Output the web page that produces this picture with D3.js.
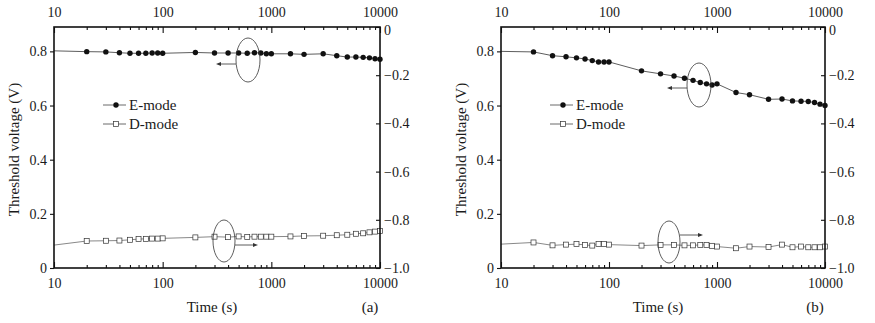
<!DOCTYPE html>
<html>
<head>
<meta charset="utf-8">
<script src="https://cdn.jsdelivr.net/npm/d3@7"></script>
<style>
  html, body { margin: 0; padding: 0; background: #fff; }
  svg { display: block; }
  text { font-family: "Liberation Serif", "DejaVu Serif", serif; fill: #1a1a1a; }
</style>
</head>
<body>
<svg id="chart" width="875" height="323"></svg>
<script>
// Measurement times (s), shared by both panels
const times = [10,20,30,40,50,60,70,80,90,100,200,300,400,500,600,700,800,900,1000,1500,2000,3000,4000,5000,6000,7000,8000,9000,10000];

// Panel (a): threshold voltage of E-mode (left axis) and D-mode (right axis)
const eModeA = [0.802,0.799,0.798,0.795,0.793,0.793,0.793,0.794,0.794,0.793,0.796,0.794,0.794,0.794,0.793,0.795,0.794,0.791,0.791,0.791,0.789,0.791,0.784,0.779,0.779,0.778,0.776,0.773,0.771];
const dModeA = [-0.905,-0.888,-0.887,-0.886,-0.883,-0.880,-0.879,-0.878,-0.878,-0.877,-0.873,-0.870,-0.872,-0.869,-0.871,-0.870,-0.870,-0.870,-0.870,-0.869,-0.867,-0.866,-0.864,-0.862,-0.858,-0.856,-0.852,-0.849,-0.846];

// Panel (b)
const eModeB = [0.800,0.798,0.784,0.780,0.776,0.772,0.766,0.761,0.761,0.761,0.728,0.717,0.709,0.701,0.693,0.685,0.680,0.676,0.680,0.648,0.640,0.623,0.624,0.617,0.616,0.615,0.611,0.605,0.600];
const dModeB = [-0.901,-0.894,-0.906,-0.903,-0.901,-0.904,-0.907,-0.901,-0.900,-0.903,-0.907,-0.904,-0.904,-0.906,-0.906,-0.904,-0.904,-0.908,-0.911,-0.918,-0.911,-0.913,-0.903,-0.914,-0.911,-0.914,-0.914,-0.914,-0.911];

// Axis ticks and labels
const xMajor = [10, 100, 1000, 10000];
const xMinor = [20,30,40,50,60,70,80,90,200,300,400,500,600,700,800,900,2000,3000,4000,5000,6000,7000,8000,9000];
const leftTicks = [0, 0.2, 0.4, 0.6, 0.8];
const rightTicks = [0, -0.2, -0.4, -0.6, -0.8, -1.0];
const seriesNames = ["E-mode", "D-mode"];
const xTitle = "Time (s)";
const yTitle = "Threshold voltage (V)";

const svg = d3.select("#chart");

function fmtLeft(v) { return v === 0 ? "0" : d3.format(".1f")(v); }
function fmtRight(v) { return v === 0 ? "0" : "\u2212" + d3.format(".1f")(-v); }

function drawPanel(cfg) {
  const { x0, x1, top, bottom, eVals, dVals, tag, legendX, eCircle, dCircle } = cfg;
  const g = svg.append("g");
  const x = d3.scaleLog().domain([10, 10000]).range([x0, x1]);
  const yL = d3.scaleLinear().domain([0, 0.89]).range([bottom, top]);
  const yR = d3.scaleLinear().domain([-1, 0]).range([bottom, top]);

  // Data lines
  const eLine = d3.line().x((d, i) => x(times[i])).y(d => yL(d));
  const dLine = d3.line().x((d, i) => x(times[i])).y(d => yR(d));
  g.append("path").attr("d", eLine(eVals)).attr("fill", "none")
    .attr("stroke", "#333").attr("stroke-width", 0.8);
  g.append("path").attr("d", dLine(dVals)).attr("fill", "none")
    .attr("stroke", "#555").attr("stroke-width", 0.7);

  // Markers (the first sample sits on the axis line and carries none)
  g.selectAll(".em").data(eVals.slice(1)).join("circle")
    .attr("cx", (d, i) => x(times[i + 1])).attr("cy", d => yL(d))
    .attr("r", 2.7).attr("fill", "#111");
  g.selectAll(".dm").data(dVals.slice(1)).join("rect")
    .attr("x", (d, i) => x(times[i + 1]) - 2.5).attr("y", d => yR(d) - 2.5)
    .attr("width", 5).attr("height", 5)
    .attr("fill", "#fff").attr("stroke", "#333").attr("stroke-width", 0.7);

  // Bottom and top axes: labels, inward ticks
  const bot = d3.axisBottom(x).tickValues(xMajor).tickFormat(d3.format("d")).tickSize(-6).tickPadding(10);
  const botMinor = d3.axisBottom(x).tickValues(xMinor).tickFormat("").tickSize(-3);
  const topAx = d3.axisTop(x).tickValues(xMajor).tickFormat(d3.format("d")).tickSize(-6).tickPadding(10);
  const topMinor = d3.axisTop(x).tickValues(xMinor).tickFormat("").tickSize(-3);
  const left = d3.axisLeft(yL).tickValues(leftTicks).tickFormat(fmtLeft).tickSize(4).tickPadding(3);
  const right = d3.axisRight(yR).tickValues(rightTicks).tickFormat(fmtRight).tickSize(-4).tickPadding(4);

  const axes = [
    [bot, `translate(0,${bottom})`, "b"], [botMinor, `translate(0,${bottom})`, "bm"],
    [topAx, `translate(0,${top})`, "t"], [topMinor, `translate(0,${top})`, "tm"],
    [left, `translate(${x0},0)`, "l"], [right, `translate(${x1},0)`, "r"]
  ];
  axes.forEach(([ax, tr, side]) => {
    const a = g.append("g").attr("transform", tr).call(ax);
    a.select(".domain").remove();
    a.selectAll("line").attr("stroke", "#111").attr("stroke-width", 1.1);
    a.selectAll("text").attr("font-family", "Liberation Serif, serif")
      .attr("font-size", 14).attr("fill", "#1a1a1a");
    // right-axis labels sit outside the frame
    if (side === "r") a.selectAll("text").attr("x", 4);
    // the top "0" of the right axis sits a little below the corner
    if (side === "r") a.selectAll("text").filter(d => d === 0).attr("dy", "0.5em");
  });

  // Frame
  g.append("rect").attr("x", x0).attr("y", top).attr("width", x1 - x0).attr("height", bottom - top)
    .attr("fill", "none").attr("stroke", "#111").attr("stroke-width", 1.6);

  // Titles
  g.append("text").attr("x", (x0 + x1) / 2 - 5).attr("y", 312)
    .attr("text-anchor", "middle").attr("font-size", 15).text(xTitle);
  g.append("text").attr("x", x1 - 10).attr("y", 312)
    .attr("text-anchor", "middle").attr("font-size", 15).text(tag);
  g.append("text").attr("transform", `translate(${x0 - 35},${(top + bottom) / 2 + 2}) rotate(-90)`)
    .attr("text-anchor", "middle").attr("font-size", 15).text(yTitle);

  // Legend
  const lg = g.append("g");
  [0, 1].forEach(k => {
    const ly = 105 + k * 19;
    lg.append("line").attr("x1", legendX).attr("x2", legendX + 23).attr("y1", ly).attr("y2", ly)
      .attr("stroke", "#444").attr("stroke-width", 0.8);
    if (k === 0) {
      lg.append("circle").attr("cx", legendX + 13).attr("cy", ly).attr("r", 2.7).attr("fill", "#111");
    } else {
      lg.append("rect").attr("x", legendX + 10.5).attr("y", ly - 2.5).attr("width", 5).attr("height", 5)
        .attr("fill", "#fff").attr("stroke", "#333").attr("stroke-width", 0.7);
    }
    lg.append("text").attr("x", legendX + 26).attr("y", ly + 5)
      .attr("font-size", 15).text(seriesNames[k]);
  });

  // Ellipses marking each series, with arrows toward its axis
  const mk = g.append("g").attr("fill", "none").attr("stroke", "#333").attr("stroke-width", 0.8);
  mk.append("ellipse").attr("cx", eCircle.cx).attr("cy", eCircle.cy).attr("rx", 12).attr("ry", 22);
  mk.append("ellipse").attr("cx", dCircle.cx).attr("cy", dCircle.cy).attr("rx", 11).attr("ry", 21);
  // arrow to the left axis
  const ay = eCircle.arrowY, ax0 = eCircle.cx - 12, ax1 = ax0 - 20;
  mk.append("line").attr("x1", ax0).attr("x2", ax1 + 3).attr("y1", ay).attr("y2", ay);
  g.append("path").attr("d", `M${ax1},${ay} l5,-2 l0,4 z`).attr("fill", "#333");
  // arrow to the right axis
  const by = dCircle.arrowY, bx0 = dCircle.cx + 11, bx1 = bx0 + 23;
  mk.append("line").attr("x1", bx0).attr("x2", bx1 - 3).attr("y1", by).attr("y2", by);
  g.append("path").attr("d", `M${bx1},${by} l-5,-2 l0,4 z`).attr("fill", "#333");
}

drawPanel({
  x0: 54, x1: 380, top: 27, bottom: 268, eVals: eModeA, dVals: dModeA, tag: "(a)",
  legendX: 103,
  eCircle: { cx: 248, cy: 60, arrowY: 64 },
  dCircle: { cx: 224, cy: 241, arrowY: 245 }
});
drawPanel({
  x0: 501, x1: 825, top: 27, bottom: 268, eVals: eModeB, dVals: dModeB, tag: "(b)",
  legendX: 550,
  eCircle: { cx: 699, cy: 85, arrowY: 88 },
  dCircle: { cx: 669, cy: 242, arrowY: 235 }
});
</script>
</body>
</html>
